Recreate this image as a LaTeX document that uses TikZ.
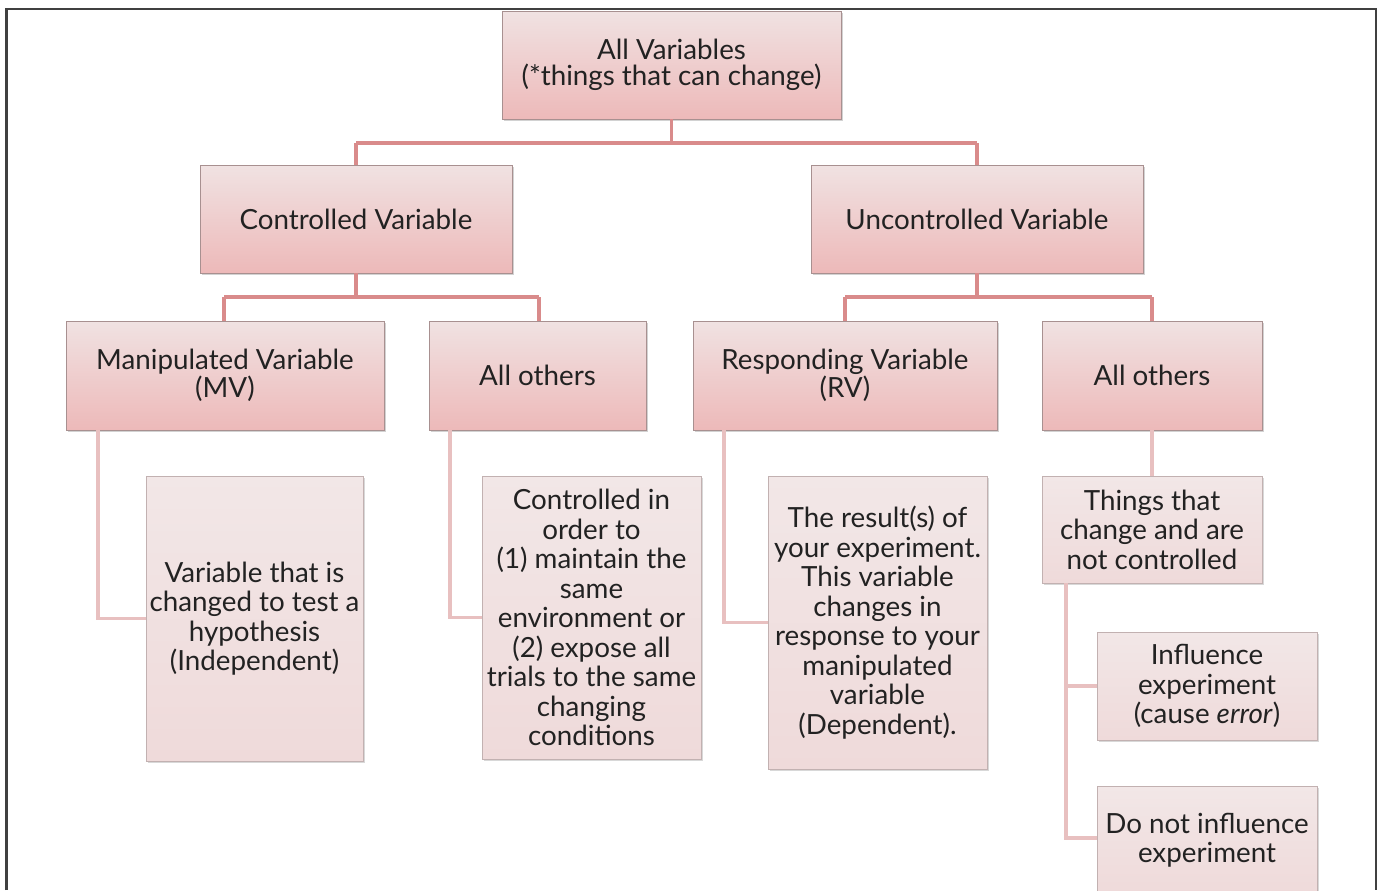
\documentclass[tikz,border=0pt]{standalone}
\usepackage{fontspec}
\setmainfont{Lato}
\usetikzlibrary{shadows}
\definecolor{linkA}{HTML}{D98B8B}
\definecolor{linkB}{HTML}{E8C0C0}
\definecolor{boxedge}{HTML}{A89090}
\definecolor{txt}{HTML}{222222}
\definecolor{upTop}{HTML}{F0E2E2}
\definecolor{upBot}{HTML}{EDB9B9}
\definecolor{lfTop}{HTML}{F2E7E7}
\definecolor{lfBot}{HTML}{EFDADA}
\tikzset{
  every node/.style={text=txt},
  upbox/.style={draw=boxedge, line width=0.5pt, top color=upTop, bottom color=upBot,
    align=center, inner sep=2pt, font=\fontsize{15.8}{14.8}\selectfont,
    drop shadow={shadow xshift=1.2pt, shadow yshift=-1.2pt, opacity=0.35}},
  leafbox/.style={draw=boxedge!70, line width=0.5pt, top color=lfTop, bottom color=lfBot,
    align=center, inner sep=2pt, font=\fontsize{15.8}{16.8}\selectfont,
    drop shadow={shadow xshift=1.2pt, shadow yshift=-1.2pt, opacity=0.3}},
  linkmain/.style={draw=linkA, line width=1.8pt},
  linkleaf/.style={draw=linkB, line width=1.8pt},
  frame/.style={draw=black!75, line width=1.2pt}
}
\begin{document}
\begin{tikzpicture}[x=0.02cm, y=-0.02cm]
\clip (0,0) rectangle (1383,890);
\fill[white] (0,0) rectangle (1383,890);
% frame
\draw[frame] (6.5,890) -- (6.5,9) -- (1376,9) -- (1376,890);

\coordinate (j0) at (671.5,143);
\coordinate (jl) at (356,143);
\coordinate (jr) at (977,143);
\coordinate (k0) at (356,297);
\coordinate (kl) at (224,297);
\coordinate (kr) at (539,297);
\coordinate (m0) at (977,297);
\coordinate (ml) at (845,297);
\coordinate (mr) at (1152,297);

\node[upbox, minimum width=6.78cm, minimum height=2.16cm] (top) at (671.5,65)
  {All Variables\\(*things that can change)};
\node[upbox, minimum width=6.24cm, minimum height=2.16cm] (ctrl) at (356,219)
  {Controlled Variable};
\node[upbox, minimum width=6.64cm, minimum height=2.16cm] (unctrl) at (977,219)
  {Uncontrolled Variable};
\node[upbox, minimum width=6.36cm, minimum height=2.18cm] (mv) at (225,375.5)
  {Manipulated Variable\\(MV)};
\node[upbox, minimum width=4.34cm, minimum height=2.18cm] (othl) at (537.5,375.5)
  {All others};
\node[upbox, minimum width=6.08cm, minimum height=2.18cm] (rv) at (845,375.5)
  {Responding Variable\\(RV)};
\node[upbox, minimum width=4.40cm, minimum height=2.18cm] (othr) at (1152,375.5)
  {All others};

\node[leafbox, minimum width=4.34cm, minimum height=5.70cm] (indep) at (254.5,618.5)
  {Variable that is\\changed to test a\\hypothesis\\(Independent)};
\node[leafbox, minimum width=4.38cm, minimum height=5.66cm] (ctrlin) at (591.5,617.5)
  {Controlled in\\order to\\(1) maintain the\\same\\environment or\\(2) expose all\\trials to the same\\changing\\conditions};
\node[leafbox, minimum width=4.38cm, minimum height=5.86cm] (result) at (877.5,622.5)
  {The result(s) of\\your experiment.\\This variable\\changes in\\response to your\\manipulated\\variable\\(Dependent).};
\node[leafbox, minimum width=4.40cm, minimum height=2.14cm] (things) at (1152,529.5)
  {Things that\\change and are\\not controlled};
\node[leafbox, minimum width=4.40cm, minimum height=2.16cm] (infl) at (1207,686)
  {Influence\\experiment\\(cause \textit{error})};
\node[leafbox, minimum width=4.40cm, minimum height=2.16cm] (donot) at (1207,840)
  {Do not influence\\experiment};

% tree connectors
\draw[linkmain] (top.south) -- (j0);
\draw[linkmain] (jl) -- (jr);
\draw[linkmain] (jl) -- (ctrl.north);
\draw[linkmain] (jr) -- (unctrl.north);
\draw[linkmain] (ctrl.south) -- (k0);
\draw[linkmain] (kl) -- (kr);
\draw[linkmain] (kl) -- (mv.north -| kl);
\draw[linkmain] (kr) -- (othl.north -| kr);
\draw[linkmain] (unctrl.south) -- (m0);
\draw[linkmain] (ml) -- (mr);
\draw[linkmain] (ml) -- (rv.north -| ml);
\draw[linkmain] (mr) -- (othr.north);

\coordinate (a1) at (98,430);
\draw[linkleaf] (a1) |- (indep.west);
\coordinate (a2) at (450,430);
\draw[linkleaf] (a2) |- (ctrlin.west);
\coordinate (a3) at (724,430);
\draw[linkleaf] (a3) |- (result.west);
\draw[linkleaf] (othr.south) -- (things.north);
\coordinate (a4) at (1066,583);
\draw[linkleaf] (a4) |- (infl.west);
\draw[linkleaf] (a4) |- ([yshift=0.04cm]donot.west);
\end{tikzpicture}
\end{document}
